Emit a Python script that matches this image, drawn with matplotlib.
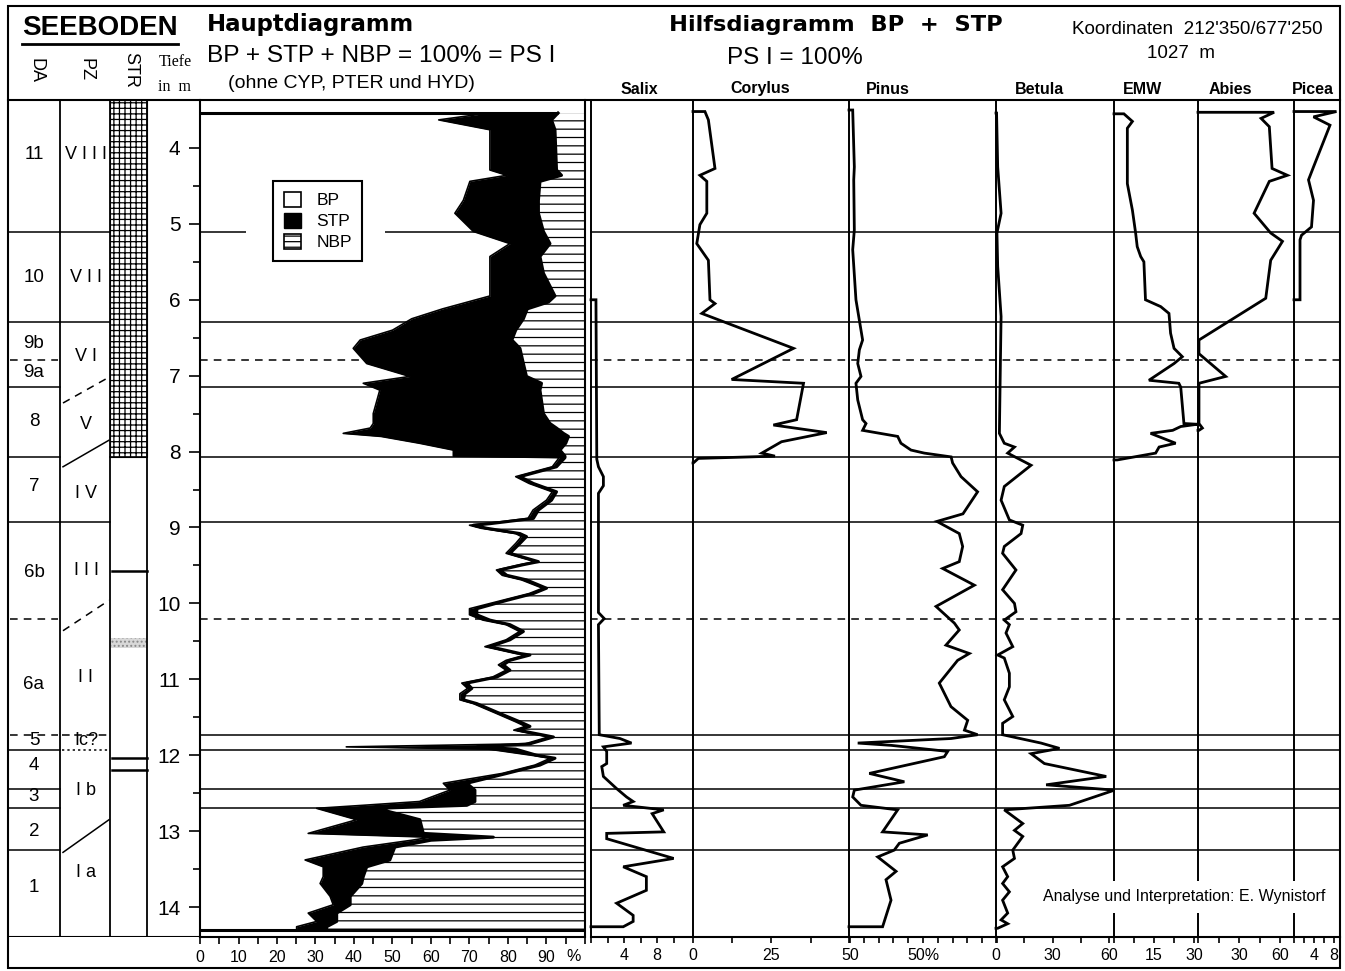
import numpy as np
import matplotlib.pyplot as plt
from matplotlib.patches import Patch, Rectangle

plt.rcParams.update({'font.family': 'Liberation Sans', 'hatch.linewidth': 0.9})

W, H = 1345, 971
DEPTH_LIM = (14.395, 3.368)      # depth (m) at bottom / top of the diagram body

# ---------------------------------------------------------------- zones
ZONE_SOLID = [5.11, 6.29, 7.15, 8.07, 8.93, 11.73, 11.93, 12.45, 12.70, 13.25]
ZONE_DASHED = [6.79, 10.20]

DA_SOLID = [5.11, 6.29, 7.15, 8.07, 8.93, 11.93, 12.45, 12.70, 13.25]
DA_DASHED = [6.79, 10.20, 11.73]
DA_LABELS = ['11', '10', '9b', '9a', '8', '7', '6b', '6a', '5', '4', '3', '2', '1']
DA_LABEL_DEPTH = [4.09, 5.70, 6.57, 6.96, 7.61, 8.46, 9.59, 11.07, 11.81, 12.14, 12.55, 13.01, 13.74]

PZ_SOLID = [5.11, 6.29, 8.93]
PZ_DASHED = [11.73]
PZ_DOTTED = [11.93]
PZ_DIAG_LEFT = [7.36, 8.20, 10.36, 13.28]
PZ_DIAG_RIGHT = [7.02, 7.85, 9.96, 12.85]
PZ_DIAG_STYLE = ['--', '-', '--', '-']
PZ_LABELS = ['V I I I', 'V I I', 'V I', 'V', 'I V', 'I I I', 'I I', 'Ic?', 'I b', 'I a']
PZ_LABEL_DEPTH = [4.09, 5.70, 6.75, 7.64, 8.55, 9.56, 10.97, 11.81, 12.46, 13.54]

STR_GRID_BOTTOM = 8.07
STR_LINES = [9.57, 12.04, 12.20]
STR_SAND = (10.46, 10.59)

# ---------------------------------------------------------------- main diagram
MAIN_D = [3.54, 3.63, 3.76, 4.29, 4.36, 4.44, 4.69, 4.86, 5.10, 5.26, 5.43, 5.65, 5.95,
          6.03, 6.12, 6.25, 6.40, 6.53, 6.64, 6.84, 7.01, 7.10, 7.19, 7.50, 7.63, 7.69,
          7.76, 7.80, 7.89, 7.98, 8.06, 8.08, 8.20, 8.33, 8.42, 8.53, 8.64, 8.77, 8.88,
          8.95, 8.97, 9.01, 9.08, 9.12, 9.21, 9.34, 9.45, 9.49, 9.56, 9.63, 9.69, 9.80,
          9.87, 9.96, 10.07, 10.15, 10.22, 10.28, 10.37, 10.48, 10.57, 10.66, 10.68,
          10.75, 10.81, 10.88, 10.97, 11.05, 11.12, 11.19, 11.27, 11.32, 11.45, 11.56,
          11.62, 11.67, 11.76, 11.85, 11.89, 11.92, 12.00, 12.04, 12.13, 12.24, 12.37,
          12.46, 12.61, 12.66, 12.70, 12.85, 13.03, 13.08, 13.12, 13.21, 13.38, 13.47,
          13.60, 13.69, 13.86, 13.97, 14.08, 14.19, 14.26, 14.30]
BP = [75.0, 62.0, 75.3, 75.3, 79.7, 70.1, 68.4, 66.2, 71.0, 80.5, 75.3, 75.3, 75.3,
      69.5, 63.0, 55.0, 50.0, 41.6, 39.8, 43.3, 54.5, 42.4, 46.7, 45.0, 45.0, 44.2,
      37.2, 47.0, 57.0, 65.8, 65.8, 93.3, 91.5, 82.0, 85.5, 91.5, 90.0, 86.5, 85.2,
      74.0, 70.0, 73.0, 82.0, 83.5, 82.0, 79.5, 87.0, 83.0, 77.0, 78.5, 83.5, 89.0,
      85.5, 78.5, 70.0, 70.0, 73.5, 79.5, 83.0, 79.5, 74.0, 82.0, 84.5,
      79.5, 77.5, 79.5, 76.0, 68.0, 69.5, 67.5, 67.5, 71.0, 77.0, 82.0,
      84.5, 81.5, 90.5, 84.5, 38.0, 75.0, 86.0, 91.0, 87.0, 78.5, 63.2,
      64.9, 57.0, 42.4, 30.3, 40.7, 28.1, 60.0, 55.0, 42.4, 27.3, 32.0,
      32.0, 31.2, 33.8, 34.6, 28.1, 30.3, 25.1, 25.1]
BP_STP = [93.0, 91.3, 92.2, 92.6, 93.9, 88.3, 87.9, 87.9, 89.2, 90.9, 88.3, 89.2, 92.2,
          90.5, 85.0, 84.0, 82.0, 81.0, 83.1, 84.0, 84.8, 88.7, 88.3, 89.2, 90.9, 92.6,
          94.4, 95.7, 95.0, 93.5, 94.8, 94.8, 92.6, 83.1, 86.6, 92.6, 91.3, 87.9, 86.6,
          75.3, 71.0, 74.5, 83.1, 84.8, 83.1, 80.5, 87.9, 84.0, 77.9, 79.7, 84.8, 90.0,
          86.6, 79.7, 71.9, 71.9, 75.3, 80.5, 84.0, 80.5, 75.3, 83.1, 85.7,
          80.5, 78.8, 80.5, 77.1, 69.3, 70.6, 68.8, 68.4, 71.9, 77.9, 83.1,
          85.7, 82.7, 91.8, 85.7, 72.0, 82.0, 87.4, 92.2, 88.3, 79.7, 69.3,
          71.4, 71.4, 69.3, 45.9, 57.1, 58.0, 76.2, 60.0, 50.6, 49.3, 43.3,
          42.4, 42.0, 39.0, 39.0, 35.5, 35.5, 32.9, 32.9]

# ---------------------------------------------------------------- Hilfsdiagramm
SALIX_D = [6.00, 8.10, 8.20, 8.33, 8.45, 8.55, 10.12, 10.20, 10.28, 11.73, 11.78, 11.84,
           11.89, 11.95, 12.11, 12.15, 12.28, 12.44, 12.55, 12.61, 12.66, 12.72, 12.77,
           13.01, 13.03, 13.10, 13.36, 13.47, 13.60, 13.78, 13.95, 14.11, 14.19, 14.26]
SALIX_V = [0.6, 0.7, 0.9, 1.5, 1.5, 0.9, 0.9, 1.6, 0.9, 1.0, 3.5, 4.9,
           1.5, 1.9, 1.9, 1.3, 1.5, 3.1, 4.3, 5.1, 3.9, 8.8, 7.4,
           8.8, 1.9, 1.9, 10.0, 3.9, 6.7, 6.7, 3.1, 5.1, 5.1, 3.9]

COR_D = [3.52, 3.63, 4.27, 4.36, 4.44, 4.86, 5.01, 5.26, 5.48, 6.00, 6.05, 6.18, 6.64,
         7.05, 7.10, 7.58, 7.65, 7.75, 7.87, 8.02, 8.06, 8.09, 8.15]
COR_V = [3.8, 4.9, 7.0, 2.2, 4.4, 4.4, 2.2, 1.2, 4.9, 5.4, 7.0, 2.8, 32.0,
         12.3, 35.2, 33.0, 25.6, 42.6, 28.2, 21.9, 26.1, 1.7, 0.1]

PIN_D = [3.50, 4.25, 4.42, 5.08, 5.34, 6.00, 6.27, 6.53, 6.66, 6.84, 7.01, 7.10, 7.32,
         7.58, 7.63, 7.72, 7.80, 7.89, 7.98, 8.02, 8.07, 8.15, 8.33, 8.53, 8.82, 8.92,
         9.08, 9.25, 9.45, 9.54, 9.76, 10.04, 10.26, 10.35, 10.55, 10.66, 10.75, 11.05,
         11.36, 11.54, 11.67, 11.73, 11.78, 11.84, 11.87, 11.95, 12.02, 12.24, 12.35,
         12.46, 12.55, 12.66, 12.72, 13.01, 13.05, 13.16, 13.25, 13.34, 13.53, 13.64,
         13.91, 14.26]
PIN_V = [2.5, 3.6, 3.2, 3.6, 2.5, 4.7, 7.0, 9.2, 7.0, 5.9, 8.1, 4.7, 5.9,
         9.2, 11.5, 9.2, 32.9, 35.1, 41.9, 50.9, 69.0, 70.0, 75.7, 86.9, 77.0, 59.4,
         74.5, 76.8, 74.5, 63.3, 84.7, 58.8, 71.2, 74.5, 65.5, 81.3, 73.4, 61.0,
         68.9, 80.2, 78.0, 86.9, 69.0, 5.9, 28.4, 66.7, 64.4, 13.7, 37.4,
         3.6, 2.5, 8.1, 32.9, 22.7, 53.2, 34.0, 30.6, 19.4, 31.8, 25.0,
         28.4, 22.7]

BET_D = [3.54, 4.25, 4.86, 5.12, 5.56, 6.22, 6.88, 7.76, 7.89, 7.94, 8.02, 8.18, 8.46,
         8.64, 8.90, 8.97, 9.08, 9.25, 9.34, 9.56, 9.82, 10.00, 10.11, 10.22, 10.28,
         10.39, 10.57, 10.68, 10.72, 10.92, 11.10, 11.27, 11.49, 11.58, 11.73, 11.84,
         11.91, 11.98, 12.11, 12.28, 12.39, 12.46, 12.66, 12.72, 12.90, 12.99, 13.07,
         13.25, 13.36, 13.47, 13.60, 13.69, 13.80, 13.91, 14.08, 14.17, 14.22, 14.28]
BET_V = [0.3, 0.9, 2.7, 0.5, 0.9, 2.7, 2.3, 1.8, 4.4, 9.8, 6.2, 18.6, 4.4,
         2.7, 7.1, 14.2, 13.3, 4.4, 3.5, 10.6, 3.5, 9.8, 10.6, 4.4, 7.1,
         5.3, 8.9, 0.9, 4.4, 7.1, 7.1, 4.4, 8.9, 3.5, 3.5, 23.9,
         33.7, 18.6, 25.7, 58.5, 26.6, 62.9, 39.0, 4.4, 14.2, 9.8, 14.2,
         8.9, 9.8, 3.5, 6.2, 3.5, 7.1, 3.5, 6.2, 2.7, 6.2, 0.9]

EMW_D = [3.55, 3.65, 3.74, 4.47, 4.82, 5.12, 5.30, 5.43, 5.50, 6.00, 6.09, 6.18, 6.44,
         6.64, 6.75, 6.84, 7.06, 7.10, 7.15, 7.63, 7.64, 7.67, 7.72, 7.76, 7.89, 7.94,
         8.02, 8.11]
EMW_V = [3.7, 6.9, 5.0, 5.0, 6.9, 8.1, 8.7, 10.0, 11.2, 11.8, 17.5, 20.6, 21.2,
         22.5, 25.6, 22.5, 13.1, 24.3, 25.0, 26.2, 31.2, 25.0, 22.0, 13.7, 23.1, 16.9,
         15.6, 1.2]

ABI_D = [3.53, 3.61, 3.72, 4.27, 4.36, 4.44, 4.86, 5.12, 5.23, 5.48, 5.98, 6.53, 6.71,
         7.01, 7.10, 7.63, 7.69, 7.72]
ABI_V = [55.5, 46.0, 52.0, 54.0, 65.2, 52.0, 40.9, 53.0, 61.6, 53.0, 49.4, 0.7, 0.7,
         20.2, 0.7, 0.7, 3.2, 0.7]

PIC_D = [3.52, 3.59, 3.70, 4.25, 4.42, 4.69, 5.04, 5.15, 5.21, 6.00]
PIC_V = [8.5, 3.9, 7.2, 3.9, 2.9, 3.9, 3.5, 1.5, 1.2, 1.2]

TAXA = ['Salix', 'Corylus', 'Pinus', 'Betula', 'EMW', 'Abies', 'Picea']
TAXA_DATA = [(SALIX_D, SALIX_V), (COR_D, COR_V), (PIN_D, PIN_V), (BET_D, BET_V),
             (EMW_D, EMW_V), (ABI_D, ABI_V), (PIC_D, PIC_V)]
TAXA_TICKS = [[0, 2, 4, 6, 8, 10], [0, 12.5, 25, 37.5, 50], list(range(0, 101, 10)),
              [0, 15, 30, 45, 60], [0, 7.5, 15, 22.5, 30], [0, 15, 30, 45, 60], [0, 2, 4, 6, 8]]
TAXA_TICKLABELS = [{4: '4', 8: '8'}, {0: '0', 25: '25', 50: '50'}, {50: '50%'},
                   {0: '0', 30: '30', 60: '60'}, {15: '15', 30: '30'}, {30: '30', 60: '60'},
                   {4: '4', 8: '8'}]
TAXA_XMAX = [12.1, 50, 100, 62.1, 31.1, 70, 9.2]

# layout (pixel columns of each panel, label x positions)
TAXA_PX = [(591, 691), (693, 850), (849, 997), (996, 1113), (1114, 1197), (1198, 1294), (1294, 1340)]
TAXA_LABEL_X = [639, 760, 888, 1039, 1142, 1230, 1313]


def closed(d, v):
    # pollen curves start and end on their zero line
    return np.r_[d[0], d, d[-1]], np.r_[0, v, 0]


fig = plt.figure(figsize=(W / 100, H / 100), dpi=100)


def px_axes(x0, y0, x1, y1, **kw):
    return fig.add_axes([x0 / W, 1 - y1 / H, (x1 - x0) / W, (y1 - y0) / H], **kw)


# =========================================================================
# LEFT COLUMNS — DA / PZ / STR
# =========================================================================
cols = px_axes(8, 100, 200, 937)
cols.set_xlim(8, 200)
cols.set_ylim(*DEPTH_LIM)
cols.axis('off')
for xv in (60, 110, 147):
    cols.axvline(xv, color='black', lw=1.3)
cols.axhline(DEPTH_LIM[0], color='black', lw=1.5)

for d in DA_SOLID:
    cols.plot([8, 60], [d, d], color='black', lw=1.1)
for d in DA_DASHED:
    cols.plot([10, 58], [d, d], color='black', lw=1.1, ls=(0, (5, 4)))
for lab, d in zip(DA_LABELS, DA_LABEL_DEPTH):
    cols.text(34, d, lab, ha='center', va='center', fontsize=13.5)

for d in PZ_SOLID:
    cols.plot([60, 110], [d, d], color='black', lw=1.1)
for d in PZ_DASHED:
    cols.plot([62, 110], [d, d], color='black', lw=1.1, ls=(0, (5, 3)))
for d in PZ_DOTTED:
    cols.plot([62, 110], [d, d], color='black', lw=1.1, ls=(0, (1.5, 2)))
for dl, dr, st in zip(PZ_DIAG_LEFT, PZ_DIAG_RIGHT, PZ_DIAG_STYLE):
    cols.plot([63, 109], [dl, dr], color='black', lw=1.1, ls=(0, (5, 4)) if st == '--' else '-')
for lab, d in zip(PZ_LABELS, PZ_LABEL_DEPTH):
    cols.text(86, d, lab, ha='center', va='center', fontsize=13)

cols.fill_betweenx([DEPTH_LIM[1], STR_GRID_BOTTOM], 110, 147, facecolor='white',
                   edgecolor='black', hatch='+++', lw=0.8)
cols.plot([110, 147], [STR_GRID_BOTTOM, STR_GRID_BOTTOM], color='black', lw=1.2)
for d in STR_LINES:
    cols.plot([112, 147], [d, d], color='black', lw=1.8)
cols.fill_betweenx(STR_SAND, 111, 147, facecolor='#d8d8d8', edgecolor='#888888',
                   hatch='....', lw=0)

# =========================================================================
# HAUPTDIAGRAMM — BP / STP / NBP
# =========================================================================
ax = px_axes(200, 100, 585, 937)
ax.set_xlim(0, 100)
ax.set_ylim(*DEPTH_LIM)

for d in ZONE_SOLID:
    if d == 5.11:
        ax.hlines(d, 0, 12, color='black', lw=1.1, zorder=1)
        ax.hlines(d, 48, 100, color='black', lw=1.1, zorder=1)
    elif d != 13.25:
        ax.axhline(d, color='black', lw=1.1, zorder=1)
for d in ZONE_DASHED:
    ax.axhline(d, color='black', lw=1.1, ls=(0, (5, 4)), zorder=1)

ax.fill_betweenx(MAIN_D, BP, BP_STP, color='black', lw=0, zorder=2)
ax.fill_betweenx(MAIN_D, BP_STP, 100, facecolor='white', edgecolor='black',
                 hatch='--', lw=0, zorder=2)
ax.plot(BP_STP, MAIN_D, color='black', lw=2.2, zorder=3)
ax.plot(BP, MAIN_D, color='black', lw=1.2, zorder=3)
ax.hlines([MAIN_D[0], MAIN_D[-1]], 0, [BP_STP[0], 100], color='black', lw=2.2, zorder=3)

ax.set_xticks(range(0, 101, 10))
ax.set_xticklabels([str(v) for v in range(0, 91, 10)] + [''])
ax.set_xticks(range(5, 100, 10), minor=True)
ax.tick_params(axis='x', which='both', direction='out', length=5, width=1.2,
               labelsize=11.5, pad=4)
ax.text(97, -0.0145, '%', transform=ax.get_xaxis_transform(), ha='center',
        va='top', fontsize=11.5)

ax.set_yticks(range(4, 15))
ax.set_yticks(np.arange(4.5, 14.5, 1.0), minor=True)
ax.tick_params(axis='y', which='major', direction='out', length=8, width=1.2,
               labelsize=15, pad=6)
ax.tick_params(axis='y', which='minor', direction='out', length=5, width=1.2)
ax.spines['top'].set_visible(False)
for s in ('left', 'right', 'bottom'):
    ax.spines[s].set_linewidth(1.5)

handles = [Patch(facecolor='white', edgecolor='black', lw=1.2),
           Patch(facecolor='black', edgecolor='black'),
           Patch(facecolor='white', edgecolor='black', hatch='---', lw=1.2)]
leg = ax.legend(handles, ['BP', 'STP', 'NBP'], loc='upper left',
                bbox_to_anchor=(0.19, 0.903), borderaxespad=0, fontsize=12.5,
                fancybox=False, edgecolor='black', framealpha=1, handlelength=1.0,
                handleheight=1.0, handletextpad=0.9, borderpad=0.6, labelspacing=0.25)
leg.get_frame().set_linewidth(1.5)
leg.set_zorder(5)

# =========================================================================
# HILFSDIAGRAMM — single taxa
# =========================================================================
zones = px_axes(590, 100, 1340, 937)
zones.set_ylim(*DEPTH_LIM)
zones.axis('off')
for d in ZONE_SOLID:
    zones.axhline(d, color='black', lw=1.1)
for d in ZONE_DASHED:
    zones.axhline(d, color='black', lw=1.1, ls=(0, (5, 4)))

for name, (dep, val), (x0, x1), xmax, ticks, labs in zip(
        TAXA, TAXA_DATA, TAXA_PX, TAXA_XMAX, TAXA_TICKS, TAXA_TICKLABELS):
    tax = px_axes(x0, 100, x1, 937)
    tax.set_facecolor('none')
    tax.set_xlim(0, xmax)
    tax.set_ylim(*DEPTH_LIM)
    dd, vv = closed(dep, val)
    tax.plot(vv, dd, color='black', lw=2.0, clip_on=False, solid_joinstyle='miter')
    tax.set_yticks([])
    tax.set_xticks(ticks)
    tax.set_xticklabels([labs.get(t, '') for t in ticks])
    tax.tick_params(axis='x', direction='out', length=4, width=1.2, labelsize=11.5, pad=4)
    for s in ('top', 'right'):
        tax.spines[s].set_visible(False)
    tax.spines['left'].set_linewidth(1.4)
    tax.spines['bottom'].set_linewidth(1.5)

# =========================================================================
# HEADER AND FRAME
# =========================================================================
deco = fig.add_axes([0, 0, 1, 1], zorder=20)
deco.set_xlim(0, W)
deco.set_ylim(H, 0)
deco.axis('off')
deco.add_patch(Rectangle((8, 6), 1332, 962, fill=False, lw=1.5, edgecolor='black'))
deco.plot([8, 1340], [100, 100], color='black', lw=1.5)

deco.text(22, 28, 'SEEBODEN', fontsize=20, fontweight='bold', va='center')
deco.plot([22, 178], [44, 44], color='black', lw=2)
deco.text(207, 25, 'Hauptdiagramm', fontsize=16.4, fontweight='bold', va='center',
          family='DejaVu Sans')
deco.text(207, 56, 'BP + STP + NBP = 100% = PS I', fontsize=17.6, va='center')
deco.text(228, 83, '(ohne CYP, PTER und HYD)', fontsize=14, va='center')
deco.text(36, 70, 'DA', fontsize=13, rotation=-90, ha='center', va='center')
deco.text(86, 70, 'PZ', fontsize=13, rotation=-90, ha='center', va='center')
deco.text(131, 70, 'STR', fontsize=13, rotation=-90, ha='center', va='center')
deco.text(175, 62, 'Tiefe', fontsize=11.5, family='Liberation Serif', ha='center', va='center')
deco.text(174, 87, 'in  m', fontsize=11.5, family='Liberation Serif', ha='center', va='center')

deco.text(836, 25, 'Hilfsdiagramm  BP  +  STP', fontsize=16.2, fontweight='bold',
          ha='center', va='center', family='DejaVu Sans')
deco.text(795, 58, 'PS I = 100%', fontsize=17.5, ha='center', va='center')
deco.text(1197, 29, "Koordinaten  212'350/677'250", fontsize=13.6, ha='center', va='center')
deco.text(1181, 54, '1027  m', fontsize=13.5, ha='center', va='center')
for name, xl in zip(TAXA, TAXA_LABEL_X):
    deco.text(xl, 89, name, fontsize=11.5, fontweight='bold', ha='center', va='center')

deco.text(1184, 897, 'Analyse und Interpretation: E. Wynistorf', fontsize=11.5,
          ha='center', va='center',
          bbox=dict(facecolor='white', edgecolor='none', pad=6))

fig.savefig('out.png', dpi=100)
